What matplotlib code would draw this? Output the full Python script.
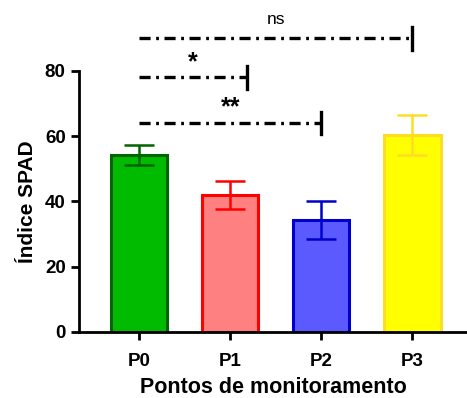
import numpy as np
import matplotlib.pyplot as plt
from matplotlib.lines import Line2D

plt.rcParams['font.family'] = ['Liberation Sans', 'DejaVu Sans']
plt.rcParams['lines.scale_dashes'] = False

# data
points = ["P0", "P1", "P2", "P3"]
means = [54.3, 41.9, 34.3, 60.4]
errors = [3.1, 4.3, 5.9, 6.1]
fill_colors = ["#00BB00", "#FF8080", "#5A5AFF", "#FFFF00"]
edge_colors = ["#006400", "#FF0000", "#0000CC", "#FFDD22"]

# significance brackets: (start, end, height, label)
brackets = [
    (0, 3, 90, "ns"),
    (0, 1.19, 78, "*"),
    (0, 2, 64, "**"),
]

fig = plt.figure(figsize=(4.67, 3.98), dpi=100)
ax = fig.add_axes([0.169, 0.166, 0.831, 0.656])

x = np.arange(len(points))
ax.bar(x, means, width=0.62, color=fill_colors, edgecolor=edge_colors,
       linewidth=2.2, zorder=2)
for i in range(len(points)):
    ax.errorbar(x[i], means[i], yerr=errors[i], color=edge_colors[i],
                capsize=10.5, elinewidth=1.8, capthick=1.8, zorder=3)

ax.set_xlim(-0.66, 3.6)
ax.set_ylim(0, 80)
ax.set_yticks([0, 20, 40, 60, 80])
ax.set_xticks(x)
ax.set_xticklabels(points)

for s in ["top", "right"]:
    ax.spines[s].set_visible(False)
for s in ["left", "bottom"]:
    ax.spines[s].set_linewidth(2)
ax.tick_params(width=2, length=6, labelsize=13.5)
ax.tick_params(axis="x", pad=9)
for lab in ax.get_xticklabels() + ax.get_yticklabels():
    lab.set_fontweight("bold")

ax.set_ylabel("Índice SPAD", fontsize=15, fontweight="bold", labelpad=6)
ax.set_xlabel("Pontos de monitoramento", fontsize=15.5, fontweight="bold",
              labelpad=5)

for start, end, h, label in brackets:
    ln = Line2D([start, end], [h, h], color="black", linewidth=2.4,
                dashes=(8, 4, 2, 4), clip_on=False)
    ax.add_line(ln)
    ax.add_line(Line2D([end, end], [h - 3.5, h + 3.5], color="black",
                       linewidth=2.4, clip_on=False))
    if label == "ns":
        ax.text((start + end) / 2, h + 3.5, label, ha="center", va="bottom",
                fontsize=12.5)
    else:
        ax.text((start + end) / 2, h + 1.0, label, ha="center", va="bottom",
                fontsize=18, fontweight="bold")

fig.savefig("out.png", dpi=100)
